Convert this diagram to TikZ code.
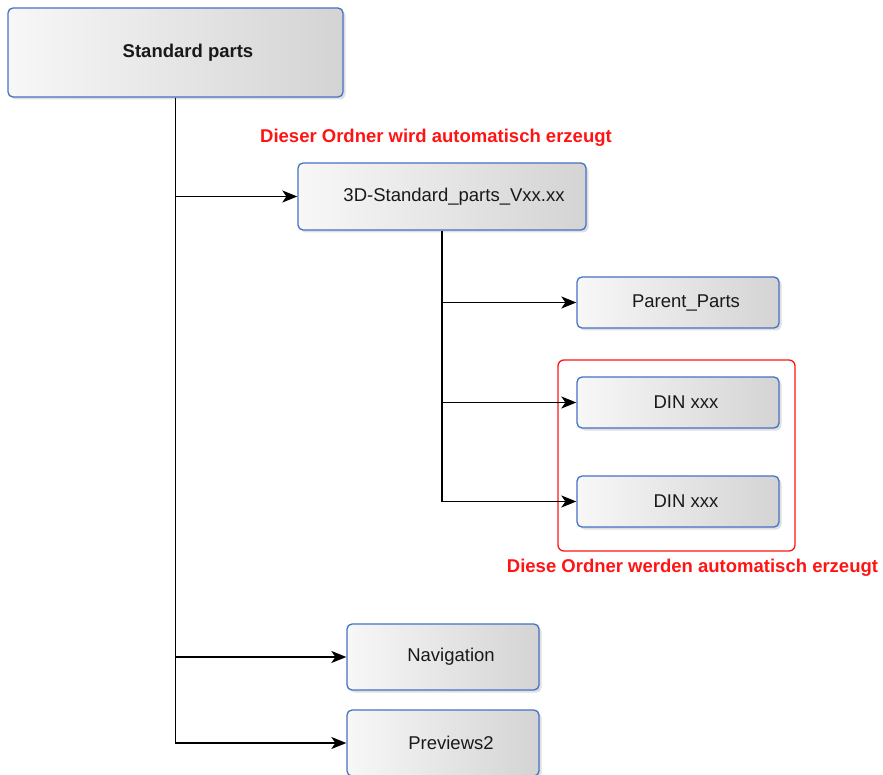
\documentclass[tikz,border=0pt]{standalone}
\usepackage{fontspec}
\setmainfont{Liberation Sans}
\usetikzlibrary{shadows,arrows.meta}
\definecolor{boxblue}{RGB}{68,114,196}
\definecolor{notered}{RGB}{255,20,20}
\tikzset{
  folder/.style={draw=boxblue, line width=1.3pt, rounded corners=5pt,
    left color=white!97!black, right color=black!17,
    drop shadow={opacity=0.25, shadow xshift=2.5pt, shadow yshift=-2.5pt},
    inner sep=0pt, text=black!90,
    font=\fontsize{18.5}{22}\selectfont,
    execute at begin node={\hspace*{16pt}}},
  link/.style={-{Stealth[length=15pt,width=12pt,inset=4pt]}, line width=1.5pt},
  note/.style={text=notered, font=\bfseries\fontsize{18.5}{22}\selectfont},
  group/.style={draw=notered, line width=1.3pt, rounded corners=6pt, inner sep=0pt}
}
\begin{document}
\begin{tikzpicture}[x=1pt,y=-1pt]
    \useasboundingbox (0,0) rectangle (883,775);
    % folders
    \node[folder, minimum width=335pt, minimum height=89pt, font=\bfseries\fontsize{18.5}{22}\selectfont, execute at begin node={\hspace*{9pt}}] (std) at (175.5,52.5) {Standard parts};
    \node[folder, minimum width=288pt, minimum height=67pt, execute at begin node={\hspace*{8pt}}] (vxx) at (442,196.5) {3D-Standard\_parts\_Vxx.xx};
    \node[folder, minimum width=202pt, minimum height=51pt] (parent) at (678,302.5) {Parent\_Parts};
    \node[group, minimum width=237pt, minimum height=191pt] (grp) at (676.5,455.5) {};
    \node[folder, minimum width=202pt, minimum height=51pt] (din1) at (678,402.5) {DIN xxx};
    \node[folder, minimum width=202pt, minimum height=51pt] (din2) at (678,501.5) {DIN xxx};
    \node[folder, minimum width=192pt, minimum height=66pt] (nav) at (443,657) {Navigation};
    \node[folder, minimum width=192pt, minimum height=66pt] (prev) at (443,743) {Previews2};
    % notes
    \node[note] (note1) at (436,138) {Dieser Ordner wird automatisch erzeugt};
    \node[note] (note2) at (692.5,568) {Diese Ordner werden automatisch erzeugt};
    % links
    \draw[link] (std.south) |- (vxx.west);
    \draw[link] (std.south) |- (nav.west);
    \draw[link] (std.south) |- (prev.west);
    \draw[link] (vxx.south) |- (parent.west);
    \draw[link] (vxx.south) |- (din1.west);
    \draw[link] (vxx.south) |- (din2.west);
\end{tikzpicture}
\end{document}
